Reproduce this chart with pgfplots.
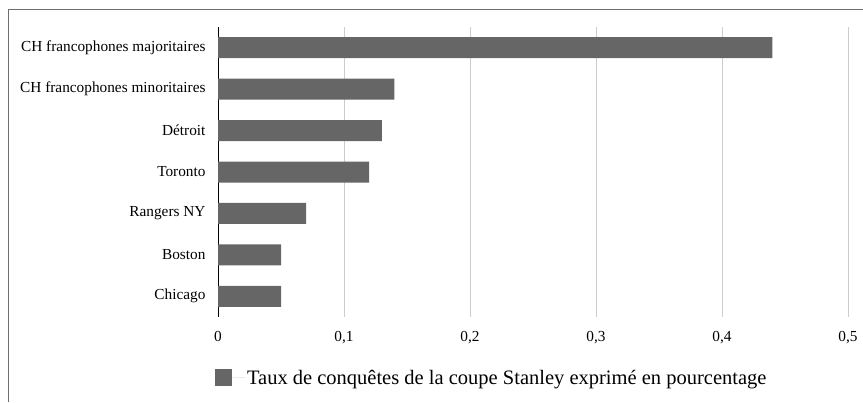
\documentclass[border=0pt]{standalone}
\usepackage{fontspec}
\setmainfont{Liberation Serif}
\usepackage{pgfplots}
\pgfplotsset{compat=1.18}
\definecolor{barc}{HTML}{666666}
\definecolor{gridc}{HTML}{CCCCCC}
\definecolor{framec}{HTML}{6E6E6E}
\begin{document}
\begin{tikzpicture}[x=1bp,y=1bp]
\path[use as bounding box] (0,0) rectangle (863,402);
\draw[framec,line width=1.3bp] (8,392.5) -- (863,392.5);
\draw[framec,line width=1.3bp] (8.5,392.5) -- (8.5,0);
\begin{axis}[
  at={(218bp,85bp)}, anchor=south west,
  scale only axis, width=630bp, height=290bp,
  xbar, bar width=21bp,
  xmin=0, xmax=0.5,
  ymin=-0.5, ymax=6.5, y dir=reverse,
  ytick={0,1,2,3,4,5,6},
  yticklabels={CH francophones majoritaires,CH francophones minoritaires,Détroit,Toronto,Rangers NY,Boston,Chicago},
  xtick={0,0.1,0.2,0.3,0.4,0.5},
  /pgf/number format/use comma,
  /pgf/number format/fixed,
  /pgf/number format/assume math mode=true,
  ticklabel style={font=\fontsize{15.3bp}{17bp}\selectfont},
  major tick length=0pt,
  xmajorgrids, major grid style={gridc,line width=1bp},
  axis y line*=left, axis x line*=bottom,
  x axis line style={draw=none},
  y axis line style={black,line width=1bp},
  yticklabel style={xshift=-9bp},
  xticklabel style={yshift=-11bp},
  legend style={draw=none,fill=none,at={(-0.005,-0.21)},anchor=west,
    font=\fontsize{20.5bp}{22bp}\selectfont, inner sep=0pt},
  legend image code/.code={\fill[barc] (0bp,-8.5bp) rectangle (17bp,8.5bp);\path (0bp,0bp) -- (30bp,0bp);},
  legend cell align=left,
]
\addplot[fill=barc,draw=none] coordinates {(0.44,0) (0.14,1) (0.13,2) (0.12,3) (0.07,4) (0.05,5) (0.05,6)};
\addlegendentry{Taux de conquêtes de la coupe Stanley exprimé en pourcentage}
\end{axis}
\end{tikzpicture}
\end{document}
